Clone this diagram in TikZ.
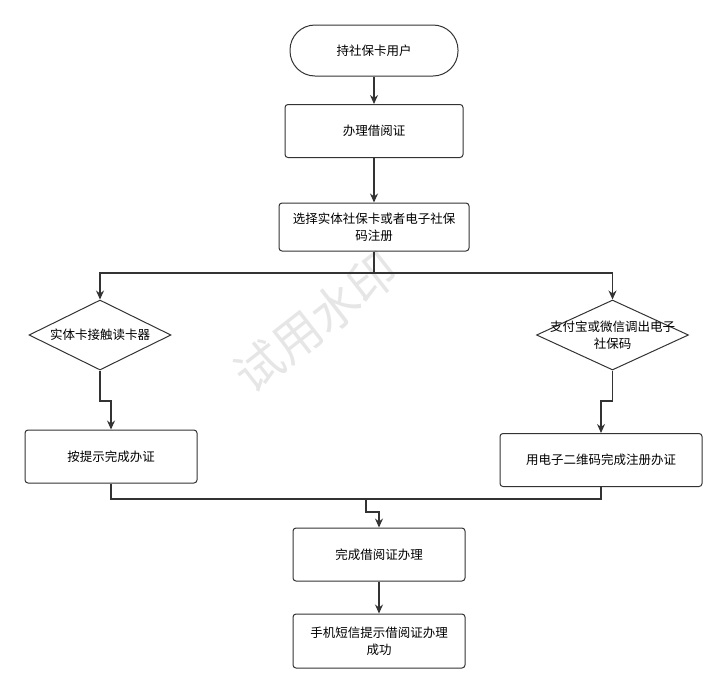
\documentclass[tikz,border=0pt]{standalone}
\usepackage{fontspec}
\setmainfont{Noto Sans CJK SC}
\usetikzlibrary{shapes.geometric,arrows.meta}
\definecolor{ln}{HTML}{333333}
\definecolor{wmc}{HTML}{E6E6E6}
\tikzset{
  txt/.style={align=center, font=\fontsize{12.5}{17}\selectfont, inner sep=0pt},
  box/.style={txt, draw=ln, line width=1pt, rounded corners=3pt, minimum width=#1, minimum height=53pt},
  term/.style={txt, draw=ln, line width=1pt, rounded corners=25pt, minimum width=168pt, minimum height=51pt},
  dec/.style={draw=ln, line width=1pt, diamond, aspect=2.03, minimum width=#1, minimum height=70pt, inner sep=0pt},
  conn/.style={draw=ln, line width=1.2pt, -{Stealth[length=9pt,width=8pt]}},
  seg/.style={draw=ln, line width=1.2pt},
}
\begin{document}
\begin{tikzpicture}[x=1pt,y=-1pt]
\useasboundingbox (0,0) rectangle (727,694);
% watermark
\node[text=wmc, rotate=38, font=\fontsize{48}{48}\selectfont, inner sep=0pt] (wm) at (316,322) {试用水印};
\node[term] (n1) at (374,50.5) {持社保卡用户};
\node[box=178pt] (n2) at (374,131) {办理借阅证};
\node[box=190pt, minimum height=48pt] (n3) at (374,227) {选择实体社保卡或者电子社保\\码注册};
\node[dec=142pt] (d1) at (100,335) {};
\node[txt] (t1) at (d1.center) {实体卡接触读卡器};
\node[dec=152pt] (d2) at (612.5,335) {};
\node[txt] (t2) at (d2.center) {支付宝或微信调出电子\\社保码};
\node[box=172pt] (b1) at (111,456.5) {按提示完成办证};
\node[box=202pt] (b2) at (601,460) {用电子二维码完成注册办证};
\node[box=172pt] (n4) at (379,554.5) {完成借阅证办理};
\node[box=172pt, minimum height=54pt] (n5) at (379,641) {手机短信提示借阅证办理\\成功};
\coordinate (split) at (374,273);
\coordinate (merge) at (366,499);
\draw[conn] (n1) -- (n2);
\draw[conn] (n2) -- (n3);
\draw[seg] (n3.south) -- (split);
\draw[conn] (split) -| (d1.north);
\draw[conn] (split) -| (d2.north);
\draw[conn] (d1.south) |- (111,401) -- (b1.north);
\draw[conn] (d2.south) |- (601,401) -- (b2.north);
\draw[seg] (b1.south) |- (merge);
\draw[seg] (b2.south) |- (merge);
\draw[conn] (merge) |- (379,512) -- (n4.north);
\draw[conn] (n4) -- (n5);
\end{tikzpicture}
\end{document}
